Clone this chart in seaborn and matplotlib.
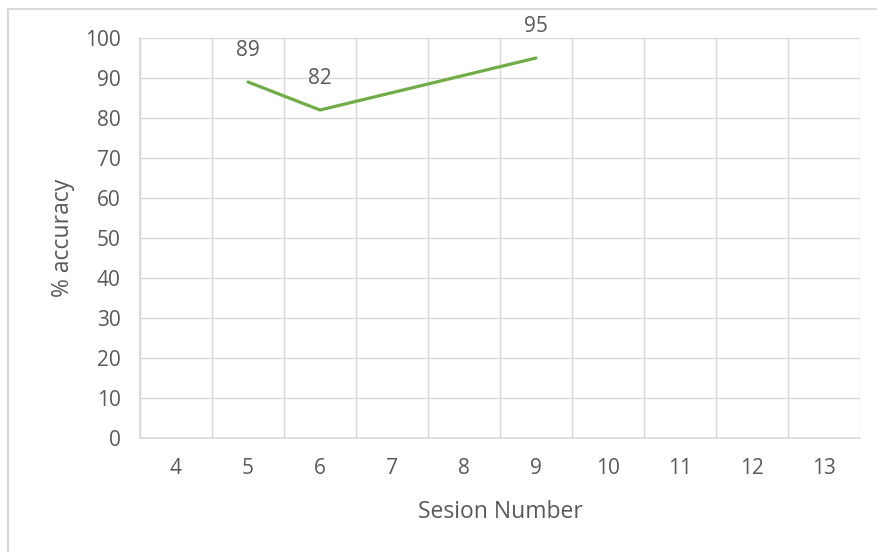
import numpy as np
import pandas as pd
import matplotlib
matplotlib.use("Agg")
import matplotlib.pyplot as plt
from matplotlib.patches import Rectangle
import seaborn as sns

# Session numbers shown on the category axis and recorded accuracy
sessions = [4, 5, 6, 7, 8, 9, 10, 11, 12, 13]
accuracy = [np.nan, 89, 82, np.nan, np.nan, 95, np.nan, np.nan, np.nan, np.nan]
y_ticks = [0, 10, 20, 30, 40, 50, 60, 70, 80, 90, 100]

df = pd.DataFrame({"session": sessions, "accuracy": accuracy})
observed = df.dropna()

sns.set_theme(style="white")
plt.rcParams["font.family"] = ["Open Sans", "DejaVu Sans"]

text_color = "#595959"
grid_color = "#d9d9d9"
line_color = "#70AD47"

fig = plt.figure(figsize=(8.78, 5.52), dpi=100)
# outer chart border
fig.patches.append(Rectangle((8 / 878, -0.1), 1.2, 1 - 9 / 552 + 0.1,
                             transform=fig.transFigure, fill=False,
                             edgecolor=grid_color, linewidth=1.5, zorder=0))

ax = fig.add_axes([140 / 878, 1 - 438 / 552, 720 / 878, 400 / 552])

sns.lineplot(data=observed, x="session", y="accuracy", ax=ax,
             color=line_color, linewidth=2.3, zorder=3)

# data labels above each point
for s, v in zip(observed["session"], observed["accuracy"]):
    ax.annotate(f"{int(v)}", (s, v), xytext=(0, 23), textcoords="offset points",
                ha="center", va="center", fontsize=15, color=text_color)

ax.set_xlim(sessions[0] - 0.5, sessions[-1] + 0.5)
ax.set_ylim(0, 100)
ax.set_xticks(sessions)
ax.set_xticklabels([str(s) for s in sessions])
ax.set_xticks([s - 0.5 for s in sessions] + [sessions[-1] + 0.5], minor=True)
ax.set_yticks(y_ticks)

ax.grid(True, axis="y", which="major", color=grid_color, linewidth=1)
ax.grid(True, axis="x", which="minor", color=grid_color, linewidth=1)
ax.grid(False, axis="x", which="major")

for side in ["top", "right"]:
    ax.spines[side].set_visible(False)
for side in ["left", "bottom"]:
    ax.spines[side].set_color(grid_color)
    ax.spines[side].set_linewidth(1.2)

ax.tick_params(axis="both", which="both", length=0, labelsize=15,
               labelcolor=text_color)
ax.tick_params(axis="x", pad=14.5)
ax.tick_params(axis="y", pad=14)

ax.set_xlabel("Sesion Number", fontsize=16.5, color=text_color, labelpad=15)
ax.set_ylabel("% accuracy", fontsize=16.5, color=text_color, labelpad=7)

fig.savefig("out.png", dpi=100)
